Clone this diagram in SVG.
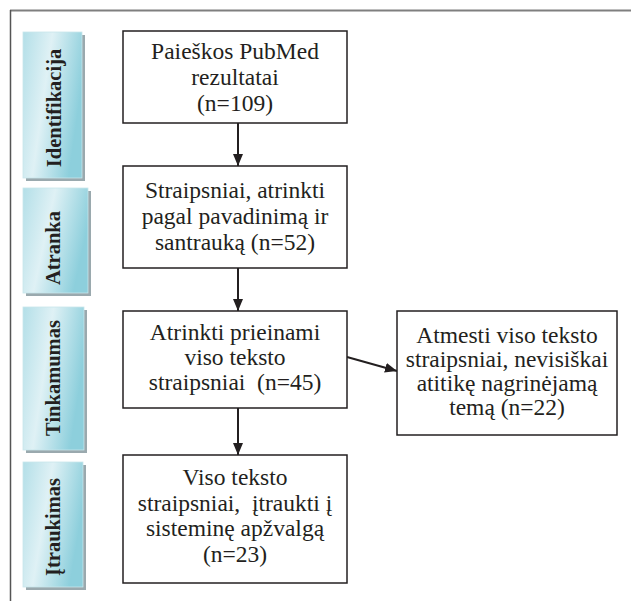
<svg xmlns="http://www.w3.org/2000/svg" width="631" height="601" viewBox="0 0 631 601">
<defs>
<linearGradient id="stage" x1="0" y1="0" x2="1" y2="0.35">
<stop offset="0" stop-color="#b3dfe8"/>
<stop offset="0.45" stop-color="#dff1f5"/>
<stop offset="1" stop-color="#8dcfdc"/>
</linearGradient>
<marker id="ah" viewBox="0 0 12 10" refX="12" refY="5" markerWidth="12" markerHeight="10" markerUnits="userSpaceOnUse" orient="auto">
<path d="M0,0 L12,5 L0,10 Z" fill="#231f20"/>
</marker>
<style>
.box{fill:#fff;stroke:#231f20;stroke-width:1.5}
.t{font-family:"Liberation Serif","Times New Roman",serif;font-size:23.5px;fill:#231f20;text-anchor:middle}
.s{font-family:"Liberation Serif","Times New Roman",serif;font-size:20.5px;font-weight:bold;fill:#231f20;text-anchor:middle}
.sh{fill:#9aa9ae}
.st{fill:url(#stage);stroke:#c9e6ec;stroke-width:0.8}
.c{stroke:#231f20;stroke-width:2;fill:none}
</style>
</defs>
<rect width="631" height="601" fill="#fff"/>
<g id="frame">
<line x1="10" y1="10.5" x2="631" y2="10.5" stroke="#7f7f7f" stroke-width="2"/>
<line x1="10.5" y1="10" x2="10.5" y2="601" stroke="#555" stroke-width="1.5"/>
</g>
<g id="stage-identifikacija">
<rect class="sh" x="26" y="35" width="59" height="146"/>
<rect class="st" x="23" y="32" width="59" height="146"/>
<text class="s" transform="translate(61,108) rotate(-90)">Identifikacija</text>
</g>
<g id="stage-atranka">
<rect class="sh" x="26" y="191" width="65" height="105"/>
<rect class="st" x="23" y="188" width="65" height="105"/>
<text class="s" transform="translate(60,248) rotate(-90)">Atranka</text>
</g>
<g id="stage-tinkamumas">
<rect class="sh" x="26" y="310" width="61" height="143"/>
<rect class="st" x="23" y="307" width="61" height="143"/>
<text class="s" transform="translate(60,378) rotate(-90)">Tinkamumas</text>
</g>
<g id="stage-itraukimas">
<rect class="sh" x="26" y="465" width="60" height="125"/>
<rect class="st" x="23" y="462" width="60" height="125"/>
<text class="s" transform="translate(60,527) rotate(-90)">Įtraukimas</text>
</g>
<g id="connectors">
<line class="c" x1="238" y1="123" x2="238" y2="166" marker-end="url(#ah)"/>
<line class="c" x1="238" y1="268" x2="238" y2="311" marker-end="url(#ah)"/>
<line class="c" x1="238" y1="408" x2="238" y2="455" marker-end="url(#ah)"/>
<line class="c" x1="347" y1="357" x2="397" y2="371" marker-end="url(#ah)"/>
</g>
<g id="n1">
<rect class="box" x="123" y="31" width="224" height="92"/>
<text class="t" x="235" y="59">Paieškos PubMed</text>
<text class="t" x="235" y="85">rezultatai</text>
<text class="t" x="235" y="111">(n=109)</text>
</g>
<g id="n2">
<rect class="box" x="123" y="166" width="224" height="102"/>
<text class="t" x="235" y="198">Straipsniai, atrinkti</text>
<text class="t" x="235" y="224">pagal pavadinimą ir</text>
<text class="t" x="235" y="250">santrauką (n=52)</text>
</g>
<g id="n3">
<rect class="box" x="123" y="311" width="224" height="97"/>
<text class="t" x="235" y="340">Atrinkti prieinami</text>
<text class="t" x="235" y="365">viso teksto</text>
<text class="t" x="235" y="390" xml:space="preserve">straipsniai  (n=45)</text>
</g>
<g id="n4">
<rect class="box" x="123" y="455" width="224" height="128"/>
<text class="t" x="235" y="485">Viso teksto</text>
<text class="t" x="235" y="511" xml:space="preserve">straipsniai,  įtraukti į</text>
<text class="t" x="235" y="536">sisteminę apžvalgą</text>
<text class="t" x="235" y="562">(n=23)</text>
</g>
<g id="n5">
<rect class="box" x="397" y="311" width="220" height="124"/>
<text class="t" x="507" y="343">Atmesti viso teksto</text>
<text class="t" x="507" y="367">straipsniai, nevisiškai</text>
<text class="t" x="507" y="391">atitikę nagrinėjamą</text>
<text class="t" x="507" y="415">temą (n=22)</text>
</g>
</svg>
